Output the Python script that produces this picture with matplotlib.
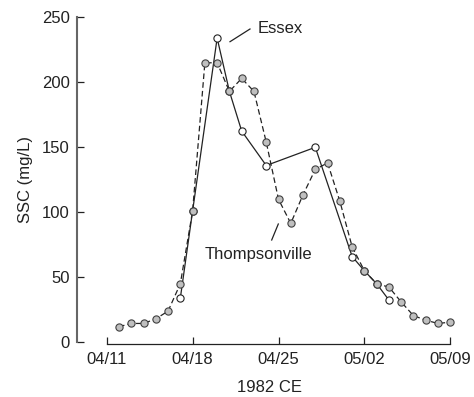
import matplotlib
matplotlib.use("Agg")
import matplotlib.pyplot as plt
import matplotlib.dates as mdates
import pandas as pd

plt.rcParams['font.family'] = ['Liberation Sans', 'DejaVu Sans']

# Thompsonville: daily suspended sediment concentration (mg/L)
thompsonville_dates = pd.date_range("1982-04-12", "1982-05-09", freq="D")
thompsonville_ssc = [12, 14.5, 14.5, 18, 24, 45, 101, 215, 215, 193, 203, 193,
                     154, 110, 91.5, 113.5, 133, 138, 108.5, 73.5, 55, 45, 42.5,
                     31, 20.5, 17, 14.5, 15.5]

# Essex: sampled days only
essex_dates = pd.to_datetime(["1982-04-17", "1982-04-18", "1982-04-20", "1982-04-21",
                              "1982-04-22", "1982-04-24", "1982-04-28", "1982-05-01",
                              "1982-05-02", "1982-05-03", "1982-05-04"])
essex_ssc = [34, 101, 234, 193, 162.5, 136, 150, 66, 55, 45, 32.5]

tick_dates = pd.to_datetime(["1982-04-11", "1982-04-18", "1982-04-25",
                             "1982-05-02", "1982-05-09"])
tick_labels = ["04/11", "04/18", "04/25", "05/02", "05/09"]
y_ticks = [0, 50, 100, 150, 200, 250]

W, H = 474, 397
fig = plt.figure(figsize=(W / 100, H / 100), dpi=100)
ax_left, ax_right, ax_bottom, ax_top = 76.5, 462, 342.3, 17.3
ax = fig.add_axes([ax_left / W, 1 - ax_bottom / H,
                   (ax_right - ax_left) / W, (ax_bottom - ax_top) / H])

px_per_day = (450.3 - 106.7) / 28
x0 = mdates.date2num(tick_dates[0])
ax.set_xlim(x0 - (106.7 - ax_left) / px_per_day,
            x0 + 28 + (ax_right - 450.3) / px_per_day)
ax.set_ylim(0, 250)

ink = "#222222"
ax.plot(essex_dates, essex_ssc, color=ink, lw=0.9, marker="o", ms=5.2,
        mfc="white", mec=ink, mew=0.8, zorder=2, clip_on=False)
ax.plot(thompsonville_dates, thompsonville_ssc, color=ink, lw=0.9,
        ls=(0, (4.5, 2.5)), marker="o", ms=5.2, mfc="#bfbfbf", mec="#404040",
        mew=0.8, zorder=3, clip_on=False)

# Spines
for s in ("top", "right"):
    ax.spines[s].set_visible(False)
ax.spines["left"].set_bounds(0, 250)
ax.spines["left"].set_color("#666666")
ax.spines["left"].set_linewidth(1.5)
ax.spines["bottom"].set_bounds(mdates.date2num(tick_dates[0]),
                               mdates.date2num(tick_dates[-1]))
ax.spines["bottom"].set_position(("outward", 1))
ax.spines["bottom"].set_color(ink)
ax.spines["bottom"].set_linewidth(0.9)

ax.set_yticks(y_ticks)
ax.tick_params(axis="y", direction="in", length=5, width=0.9, color=ink,
               pad=5, labelsize=12, labelcolor=ink)
ax.set_xticks(tick_dates)
ax.set_xticklabels(tick_labels)
ax.tick_params(axis="x", direction="in", length=5, width=0.9, color=ink,
               pad=6, labelsize=12, labelcolor=ink)

ax.set_ylabel("SSC (mg/L)", fontsize=12, color=ink, labelpad=6)
ax.set_xlabel("1982 CE", fontsize=12, color=ink, labelpad=9)

# Series labels with leader lines
fig.text(257.3 / W, 1 - 33.3 / H, "Essex", fontsize=12, color=ink,
         ha="left", va="baseline")
fig.add_artist(plt.Line2D([230 / W, 250 / W], [1 - 41.7 / H, 1 - 29 / H],
                          color=ink, lw=0.9))
fig.text(205 / W, 1 - 259.3 / H, "Thompsonville", fontsize=12, color=ink,
         ha="left", va="baseline")
fig.add_artist(plt.Line2D([271.7 / W, 278.3 / W], [1 - 240 / H, 1 - 224 / H],
                          color=ink, lw=0.9))

fig.savefig("out.png", dpi=100)
